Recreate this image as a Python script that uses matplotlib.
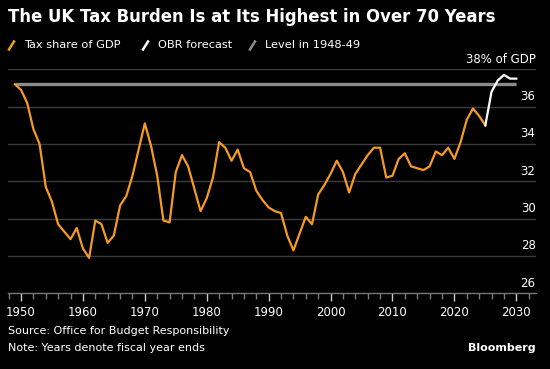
import matplotlib
matplotlib.use("Agg")
import matplotlib.pyplot as plt
import matplotlib.transforms as mtransforms
from matplotlib.lines import Line2D
import numpy as np

# fiscal years 1949..2025, tax as % of GDP
years = np.arange(1949, 2026)
tax_share = [
    37.2, 36.9, 36.2, 34.8, 34.0, 31.7, 30.9, 29.7, 29.3, 28.9,
    29.5, 28.4, 27.9, 29.9, 29.7, 28.7, 29.1, 30.7, 31.2, 32.3,
    33.7, 35.1, 33.9, 32.3, 29.9, 29.8, 32.5, 33.4, 32.8, 31.6,
    30.4, 31.1, 32.2, 34.1, 33.8, 33.1, 33.7, 32.7, 32.5, 31.5,
    31.0, 30.6, 30.4, 30.3, 29.1, 28.3, 29.2, 30.1, 29.7, 31.3,
    31.8, 32.4, 33.1, 32.5, 31.4, 32.4, 32.9, 33.4, 33.8, 33.8,
    32.2, 32.3, 33.2, 33.5, 32.8, 32.7, 32.6, 32.8, 33.6, 33.4,
    33.8, 33.2, 34.1, 35.3, 35.9, 35.5, 35.0,
]
forecast_years = [2025, 2026, 2027, 2028, 2029, 2030]
forecast = [35.0, 36.8, 37.4, 37.7, 37.5, 37.5]
level_years = [1949, 2030]
level_1948 = 37.2

y_ticks = [26, 28, 30, 32, 34, 36]
x_ticks = [1950, 1960, 1970, 1980, 1990, 2000, 2010, 2020, 2030]

orange = "#f59a23"
grid_col = "#3c3c3c"

fig = plt.figure(figsize=(5.5, 3.69), dpi=100, facecolor="black")
ax = fig.add_axes([8 / 550, 0.2051, 527.5 / 550, 0.6071], facecolor="black")

ax.set_xlim(1947.9, 2033.1)
ax.set_ylim(26, 38)

for v in [28, 30, 32, 34, 36, 38]:
    ax.axhline(v, color=grid_col, lw=1, zorder=1)

ax.plot(level_years, [level_1948, level_1948], color="#8c8c8c", lw=2.4, zorder=2,
        solid_capstyle="butt")
ax.plot(years, tax_share, color=orange, lw=1.6, zorder=3)
ax.plot(forecast_years, forecast, color="white", lw=1.6, zorder=3)

for s in ["top", "left", "right"]:
    ax.spines[s].set_visible(False)
ax.spines["bottom"].set_color("#777777")
ax.spines["bottom"].set_linewidth(1)

ax.set_yticks([])
ax.set_xticks(x_ticks)
ax.set_xticks(np.arange(1948, 2034, 2), minor=True)
ax.set_xticklabels([str(x) for x in x_ticks])
ax.tick_params(axis="x", which="major", length=6, width=1, color="#cccccc",
               labelcolor="white", labelsize=8.5, pad=3)
ax.tick_params(axis="x", which="minor", length=4, width=1, color="#777777")

# y labels sit just above their gridlines at the right edge
trans = mtransforms.blended_transform_factory(ax.transAxes, ax.transData)
for v in y_ticks:
    ax.text(1.0, v + 0.55, str(v), transform=trans, ha="right", va="center",
            color="white", fontsize=8.5, clip_on=False)
ax.text(1.0, 38 + 0.55, "38% of GDP", transform=trans, ha="right", va="center",
        color="white", fontsize=8.5, clip_on=False)

fig.text(8 / 550, 1 - 17 / 369, "The UK Tax Burden Is at Its Highest in Over 70 Years",
         color="white", fontsize=11.9, fontweight="bold", ha="left", va="center")

# legend
legend_items = [("Tax share of GDP", orange, 9), ("OBR forecast", "white", 143),
                ("Level in 1948-49", "#8c8c8c", 250)]
ly = 1 - 45.5 / 369
for label, col, x0 in legend_items:
    fig.add_artist(Line2D([x0 / 550, (x0 + 5) / 550], [ly - 4 / 369, ly + 4 / 369],
                          color=col, lw=1.8, transform=fig.transFigure))
    fig.text((x0 + 15) / 550, ly, label, color="white", fontsize=8.2,
             ha="left", va="center")

fig.text(8 / 550, 1 - 331 / 369, "Source: Office for Budget Responsibility",
         color="white", fontsize=8, ha="left", va="center")
fig.text(8 / 550, 1 - 348 / 369, "Note: Years denote fiscal year ends",
         color="white", fontsize=8, ha="left", va="center")
fig.text(536 / 550, 1 - 348 / 369, "Bloomberg", color="white", fontsize=8,
         fontweight="bold", ha="right", va="center")

fig.savefig("out.png", dpi=100, facecolor="black")
